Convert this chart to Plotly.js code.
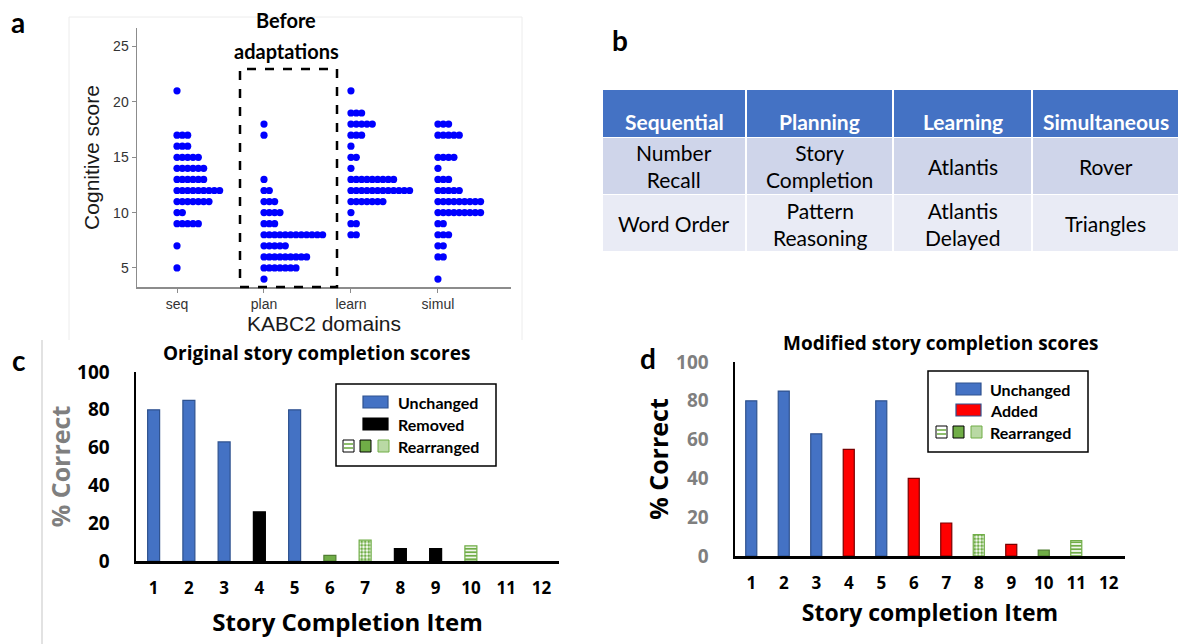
<!DOCTYPE html>
<html>
<head>
<meta charset="utf-8">
<script src="https://cdn.plot.ly/plotly-3.0.1.min.js"></script>
<style>html,body{margin:0;padding:0;background:#fff;}#chart{width:1179px;height:644px;}</style>
</head>
<body>
<div id="chart"></div>
<script>
// ---------- Panel a data: KABC2 domain scores (one entry per child) ----------
const domainLabels = ['seq', 'plan', 'learn', 'simul'];
const seqScores = [21, 17,17,17, 16,16,16, 15,15,15,15,15, 14,14,14,14,14,14, 13,13,13,13,13,13,
  12,12,12,12,12,12,12,12,12, 11,11,11,11,11,11,11, 10,10, 9,9,9,9,9, 7, 5];
const planScores = [18, 17, 13, 12,12, 11,11,11, 10,10,10,10, 9,9,9,
  8,8,8,8,8,8,8,8,8,8,8,8, 7,7,7,7,7, 6,6,6,6,6,6,6,6,6, 5,5,5,5,5,5,5, 4];
const learnScores = [21, 19,19,19, 18,18,18,18,18, 17,17,17, 16, 15,15, 14,
  13,13,13,13,13,13,13,13,13, 12,12,12,12,12,12,12,12,12,12,12,12, 11,11,11,11,11,11,11, 10, 9,9, 8,8];
const simulScores = [18,18,18, 17,17,17,17,17, 15,15,15,15, 14, 13,13,13, 12,12,12,12,12,
  11,11,11,11,11,11,11,11,11, 10,10,10,10,10,10,10,10,10, 9,9, 8,8,8, 7,7, 6,6, 4];

// ---------- Panel b data: table ----------
const tableHeaders = ['Sequential', 'Planning', 'Learning', 'Simultaneous'];
const tableRow1 = ['Number<br>Recall', 'Story<br>Completion', 'Atlantis', 'Rover'];
const tableRow2 = ['Word Order', 'Pattern<br>Reasoning', 'Atlantis<br>Delayed', 'Triangles'];

// ---------- Panels c & d data ----------
const storyItems = [1,2,3,4,5,6,7,8,9,10,11,12];
const originalPct = [80, 85, 63, 26, 80, 3, 11, 6.5, 6.5, 8, null, null];
const originalStatus = ['Unchanged','Unchanged','Unchanged','Removed','Unchanged','RearrSolid','RearrCheck','Removed','Removed','RearrStripe', null, null];
const modifiedPct = [80, 85, 63, 55, 80, 40, 17, 11, 6, 3, 8, null];
const modifiedStatus = ['Unchanged','Unchanged','Unchanged','Added','Unchanged','Added','Added','RearrCheck','Added','RearrSolid','RearrStripe', null];

// ---------- styling ----------
const W = 1179, H = 644;
const px = x => x / W;
const py = y => 1 - y / H;
const CAL = 'Lato, "Open Sans", sans-serif';
const OPS = '"Open Sans", Lato, sans-serif';
const HEL = '"Liberation Sans", Arial, sans-serif';
const BLUE = '#4472C4', GREEN = '#70AD47';
const statusStyle = {
  Unchanged:   {color: BLUE, line: '#2F528F', shape: '', fg: BLUE, bg: BLUE},
  Removed:     {color: '#000000', line: '#000000', shape: '', fg: '#000', bg: '#000'},
  Added:       {color: '#FF0000', line: '#7a0000', shape: '', fg: '#FF0000', bg: '#FF0000'},
  RearrSolid:  {color: GREEN, line: '#507E32', shape: '', fg: GREEN, bg: GREEN},
  RearrCheck:  {color: GREEN, line: GREEN, shape: '.', fg: GREEN, bg: '#ffffff'},
  RearrStripe: {color: GREEN, line: GREEN, shape: '-', fg: GREEN, bg: '#ffffff'}
};
const st = (arr, key) => arr.map(s => s ? statusStyle[s][key] : (key === 'shape' ? '' : '#ffffff'));

// dot plot layout
const DOT_STEP = 0.0613;
function dotTrace(scores, idx) {
  const counts = {}; const xs = [], ys = [];
  scores.forEach(v => { const k = counts[v] || 0; counts[v] = k + 1; xs.push(idx + k * DOT_STEP); ys.push(v); });
  return {type: 'scatter', mode: 'markers', x: xs, y: ys, xaxis: 'x', yaxis: 'y',
    marker: {color: '#0000FF', size: 7.2, line: {width: 0}}, showlegend: false, hoverinfo: 'y'};
}

function barTrace(vals, status, xa, ya) {
  return {type: 'bar', x: storyItems, y: vals, xaxis: xa, yaxis: ya, width: 0.34, showlegend: false,
    marker: {color: st(status, 'color'), line: {color: st(status, 'line'), width: 1.2},
      pattern: {shape: st(status, 'shape'), fgcolor: st(status, 'fg'),
        bgcolor: st(status, 'bg'), size: 3.5, solidity: 0.55, fillmode: 'replace'}}};
}

const data = [
  dotTrace(seqScores, 1), dotTrace(planScores, 2), dotTrace(learnScores, 3), dotTrace(simulScores, 4),
  barTrace(originalPct, originalStatus, 'x2', 'y2'),
  barTrace(modifiedPct, modifiedStatus, 'x3', 'y3')
];

const bold = (fam, s, c) => ({family: fam, size: s, color: c, weight: 700});

const layout = {
  width: W, height: H, margin: {l: 0, r: 0, t: 0, b: 0}, paper_bgcolor: '#fff', plot_bgcolor: 'rgba(0,0,0,0)',
  showlegend: false, bargap: 0,
  xaxis: {domain: [px(137), px(511)], range: [0.54, 4.84], tickvals: [1,2,3,4], ticktext: domainLabels,
    showline: true, linecolor: '#8c8c8c', linewidth: 1.5, ticks: 'outside', ticklen: 4, tickcolor: '#8c8c8c',
    showgrid: false, zeroline: false, tickfont: {family: HEL, size: 14, color: '#333333'},
    title: {text: 'KABC2 domains', font: {family: HEL, size: 21, color: '#1a1a1a'}, standoff: 0}, fixedrange: true},
  yaxis: {domain: [py(287), py(28)], range: [3.28, 26.68], tickvals: [5,10,15,20,25],
    showline: true, linecolor: '#8c8c8c', linewidth: 1.5, ticks: 'outside', ticklen: 4, tickcolor: '#8c8c8c',
    showgrid: false, zeroline: false, tickfont: {family: HEL, size: 14, color: '#333333'},
    title: {text: 'Cognitive score', font: {family: HEL, size: 21, color: '#1a1a1a'}, standoff: 8}, fixedrange: true},
  xaxis2: {domain: [px(136), px(559)], range: [0.5, 12.5], tickvals: storyItems, anchor: 'y2',
    showline: true, linecolor: '#000', linewidth: 2.5, ticks: 'outside', ticklen: 10, tickcolor: 'rgba(0,0,0,0)',
    showgrid: false, zeroline: false, tickfont: bold(OPS, 17, '#000'),
    title: {text: 'Story Completion Item', font: bold(OPS, 24, '#000'), standoff: 17}, fixedrange: true},
  yaxis2: {domain: [py(561), py(372)], range: [0, 100], tickvals: [0,20,40,60,80,100], anchor: 'x2',
    showline: true, linecolor: '#000', linewidth: 2.5, ticks: 'outside', ticklen: 20, tickcolor: 'rgba(0,0,0,0)',
    showgrid: false, zeroline: false, tickfont: bold(OPS, 19, '#000'),
    title: {text: '% Correct', font: bold(OPS, 25, '#7F7F7F'), standoff: 0}, fixedrange: true},
  xaxis3: {domain: [px(735), px(1125)], range: [0.5, 12.5], tickvals: storyItems, anchor: 'y3',
    showline: true, linecolor: '#000', linewidth: 2.5, ticks: 'outside', ticklen: 10, tickcolor: 'rgba(0,0,0,0)',
    showgrid: false, zeroline: false, tickfont: bold(OPS, 17, '#000'),
    title: {text: 'Story completion Item', font: bold(OPS, 23, '#000'), standoff: 12}, fixedrange: true},
  yaxis3: {domain: [py(556), py(362)], range: [0, 100], tickvals: [0,20,40,60,80,100], anchor: 'x3',
    showline: true, linecolor: '#000', linewidth: 2.5, ticks: 'outside', ticklen: 20, tickcolor: 'rgba(0,0,0,0)',
    showgrid: false, zeroline: false, tickfont: bold(OPS, 19, '#7F7F7F'),
    title: {text: '% Correct', font: bold(OPS, 25, '#000'), standoff: 1}, fixedrange: true},
  shapes: [], annotations: []
};

const S = layout.shapes, A = layout.annotations;
function rectPx(x0, y0, x1, y1, fill, lineColor, lw, dash, layer) {
  S.push({type: 'rect', xref: 'paper', yref: 'paper', x0: px(x0), x1: px(x1), y0: py(y1), y1: py(y0),
    fillcolor: fill, line: {color: lineColor, width: lw, dash: dash || 'solid'}, layer: layer || 'above'});
}
function linePx(x0, y0, x1, y1, color, lw, layer) {
  S.push({type: 'line', xref: 'paper', yref: 'paper', x0: px(x0), x1: px(x1), y0: py(y0), y1: py(y1),
    line: {color: color, width: lw}, layer: layer || 'below'});
}
function textPx(x, y, text, font, xanchor) {
  A.push({xref: 'paper', yref: 'paper', x: px(x), y: py(y), text: text, showarrow: false, align: 'center',
    xanchor: xanchor || 'center', yanchor: 'middle', font: font});
}

// faint figure borders
linePx(69, 17, 522, 17, '#ececec', 1);
linePx(69, 17, 69, 340, '#ececec', 1);
linePx(522, 17, 522, 340, '#ececec', 1);
linePx(42, 340, 42, 644, '#cfcfcf', 1.2);

// panel letters
textPx(18, 22, 'a', bold(CAL, 28, '#000'));
textPx(620, 40, 'b', bold(CAL, 28, '#000'));
textPx(19, 360, 'c', bold(CAL, 28, '#000'));
textPx(648, 358, 'd', bold(CAL, 28, '#000'));

// panel a: dashed box + label
rectPx(240, 69, 337, 287, 'rgba(0,0,0,0)', '#000', 2.5, 'dash');
textPx(286, 20, 'Before', bold(CAL, 20, '#000'));
textPx(286, 51, 'adaptations', bold(CAL, 20, '#000'));

// panel b: table drawn from the arrays
const colEdges = [602, 746, 893, 1032, 1179];
const rowBand = [[90, 137], [138, 194], [195, 251]];
const rowFill = [BLUE, '#CFD5EA', '#E9EBF5'];
const rows = [tableHeaders, tableRow1, tableRow2];
rows.forEach((row, r) => {
  row.forEach((txt, c) => {
    rectPx(colEdges[c] + 1, rowBand[r][0], colEdges[c + 1] - 1, rowBand[r][1], rowFill[r], 'rgba(0,0,0,0)', 0, 'solid', 'below');
    const cx = (colEdges[c] + colEdges[c + 1]) / 2;
    if (r === 0) textPx(cx, 122, txt, bold(CAL, 21, '#ffffff'));
    else textPx(cx, (rowBand[r][0] + rowBand[r][1]) / 2 + 0.5, txt, {family: CAL, size: 21, color: '#000'});
  });
});

// panel c/d titles
textPx(316, 353, 'Original story completion scores', bold(OPS, 19, '#000'));
textPx(940, 343, 'Modified story completion scores', bold(OPS, 19, '#000'));

// custom legends
function legendBox(bx0, by0, bx1, by1, sw, rowsL, small, textX) {
  rectPx(bx0, by0, bx1, by1, '#ffffff', '#000', 1.5);
  rowsL.forEach(r => {
    rectPx(sw[0], r.y - 6, sw[1], r.y + 6, r.color, r.line, 1.2);
    textPx(textX, r.y, r.label, bold(CAL, 16, '#000'), 'left');
  });
  const ys = small.y;
  rectPx(small.x[0], ys - 6, small.x[0] + 11, ys + 6, '#ffffff', '#000', 1);
  linePx(small.x[0] + 1, ys - 2, small.x[0] + 10, ys - 2, GREEN, 1.6, 'above');
  linePx(small.x[0] + 1, ys + 2, small.x[0] + 10, ys + 2, GREEN, 1.6, 'above');
  rectPx(small.x[1], ys - 6, small.x[1] + 11, ys + 6, GREEN, '#000', 1);
  rectPx(small.x[2], ys - 6, small.x[2] + 11, ys + 6, '#b9d9a4', GREEN, 1);
  textPx(textX, ys, 'Rearranged', bold(CAL, 16, '#000'), 'left');
}
legendBox(336, 384, 496, 466, [363, 388],
  [{y: 402, label: 'Unchanged', color: BLUE, line: '#2F528F'}, {y: 424, label: 'Removed', color: '#000', line: '#000'}],
  {y: 446, x: [343, 360, 378]}, 396);
legendBox(928, 371, 1088, 452, [956, 981],
  [{y: 389, label: 'Unchanged', color: BLUE, line: '#2F528F'}, {y: 410, label: 'Added', color: '#FF0000', line: '#2F528F'}],
  {y: 432, x: [936, 953, 971]}, 988);

Plotly.newPlot('chart', data, layout, {displayModeBar: false, staticPlot: true});
</script>
</body>
</html>
